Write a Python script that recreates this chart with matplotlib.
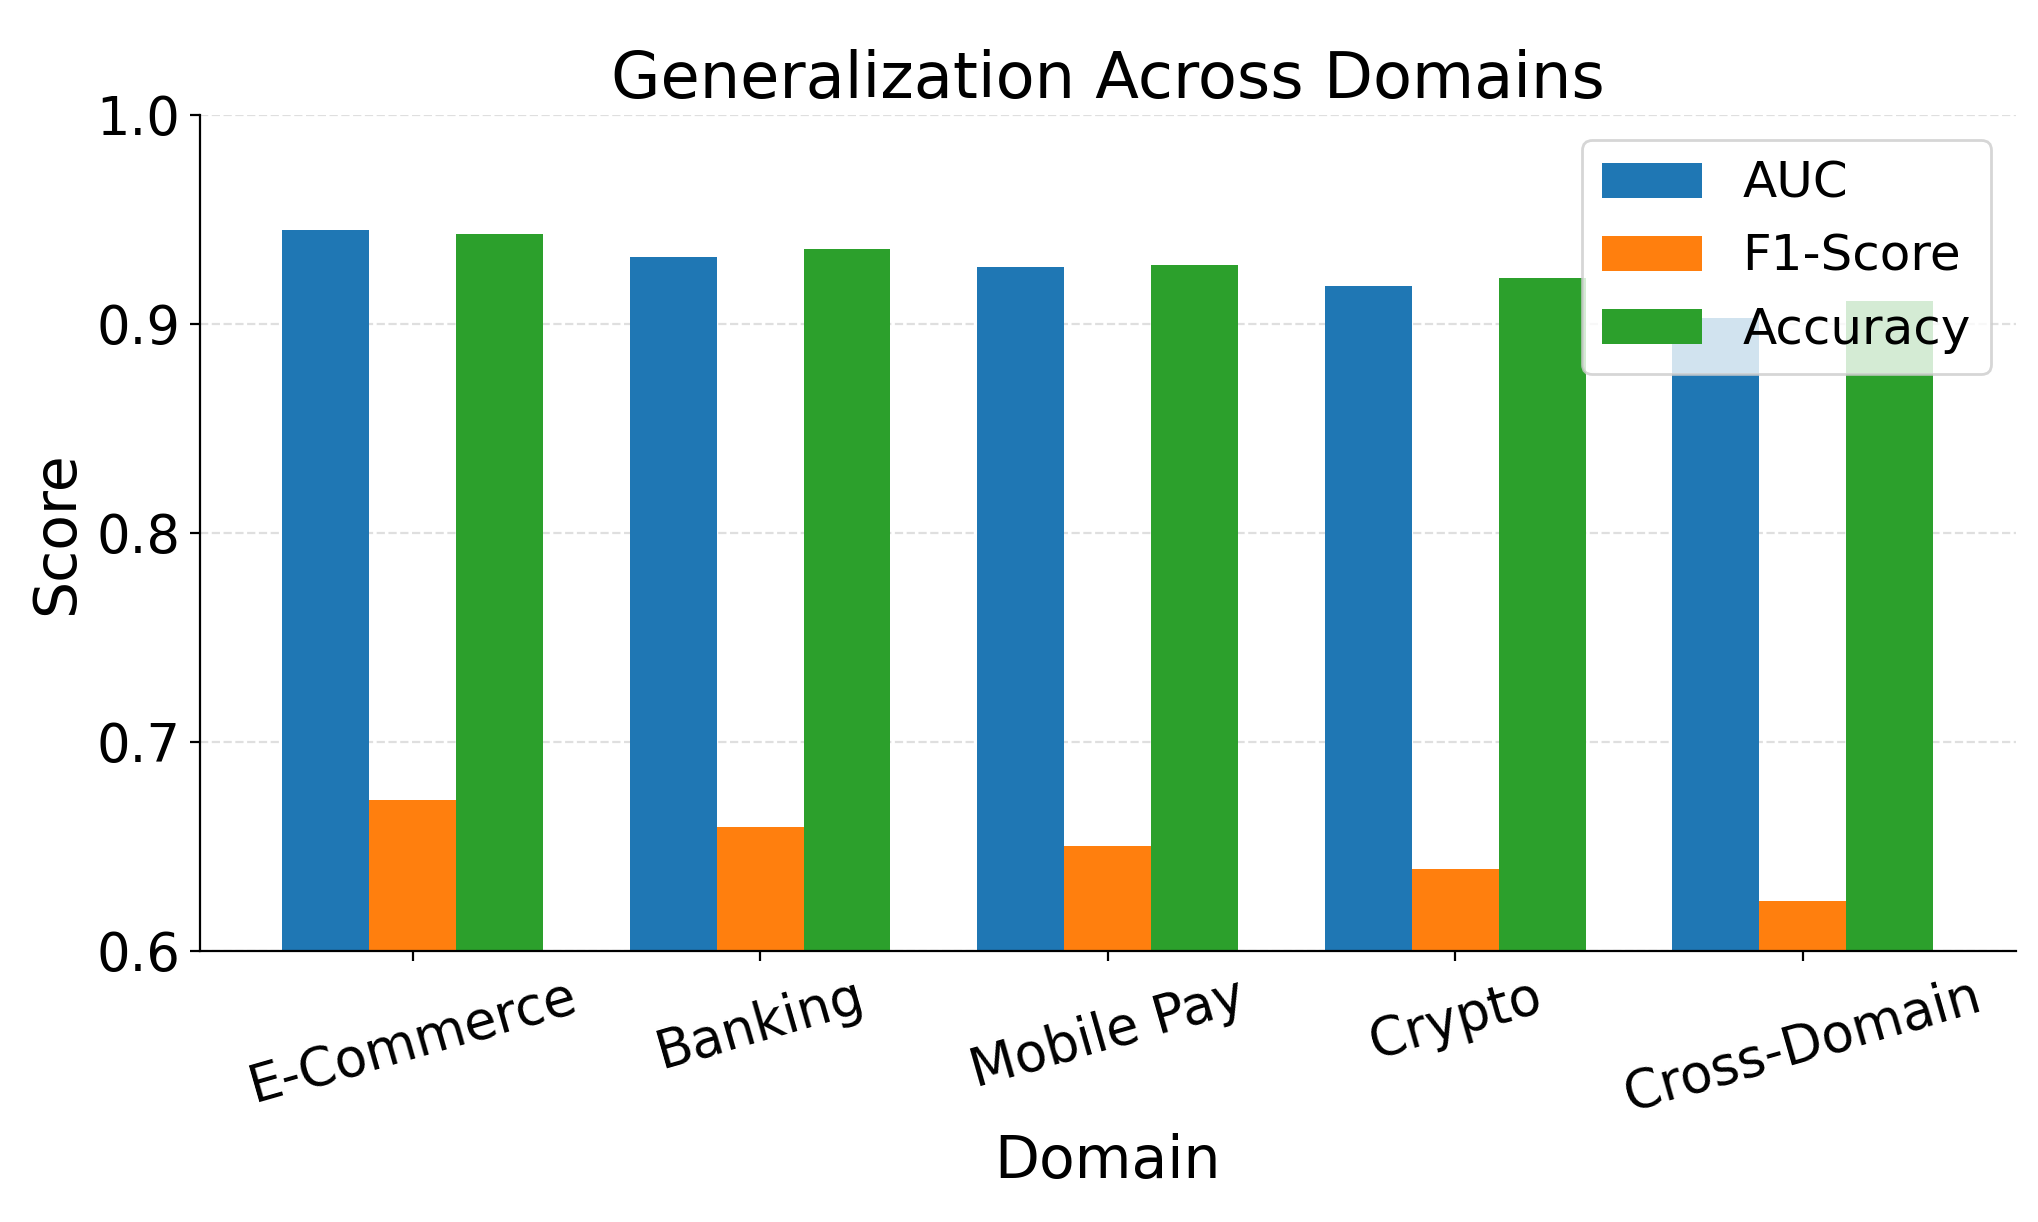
import matplotlib
matplotlib.use("Agg")
import matplotlib.pyplot as plt
import numpy as np

domains = ["E-Commerce", "Banking", "Mobile Pay", "Crypto", "Cross-Domain"]
auc = [0.945, 0.932, 0.927, 0.918, 0.903]
f1 = [0.672, 0.659, 0.650, 0.639, 0.624]
accuracy = [0.943, 0.936, 0.928, 0.922, 0.911]
series_names = ["AUC", "F1-Score", "Accuracy"]
yticks = [0.6, 0.7, 0.8, 0.9, 1.0]

fig = plt.figure(figsize=(10.19, 6.11), dpi=200)
ax = fig.add_axes([0.098, 0.222, 0.891, 0.684])

x = np.arange(len(domains))
w = 0.25
ax.bar(x - w, auc, w, label=series_names[0], color="#1f77b4")
ax.bar(x, f1, w, label=series_names[1], color="#ff7f0e")
ax.bar(x + w, accuracy, w, label=series_names[2], color="#2ca02c")

ax.set_ylim(0.6, 1.0)
ax.set_yticks(yticks)
ax.set_yticklabels([f"{v:.1f}" for v in yticks], fontsize=19)
ax.set_xticks(x)
ax.set_xticklabels(domains, rotation=16, fontsize=19)
ax.set_xlabel("Domain", fontsize=21)
ax.set_ylabel("Score", fontsize=21)
ax.set_title("Generalization Across Domains", fontsize=23)
ax.yaxis.grid(True, linestyle="--", alpha=0.4)
ax.set_axisbelow(True)
ax.spines["top"].set_visible(False)
ax.spines["right"].set_visible(False)
ax.legend(loc="upper right", fontsize=18)

fig.savefig("out.png", dpi=200)
